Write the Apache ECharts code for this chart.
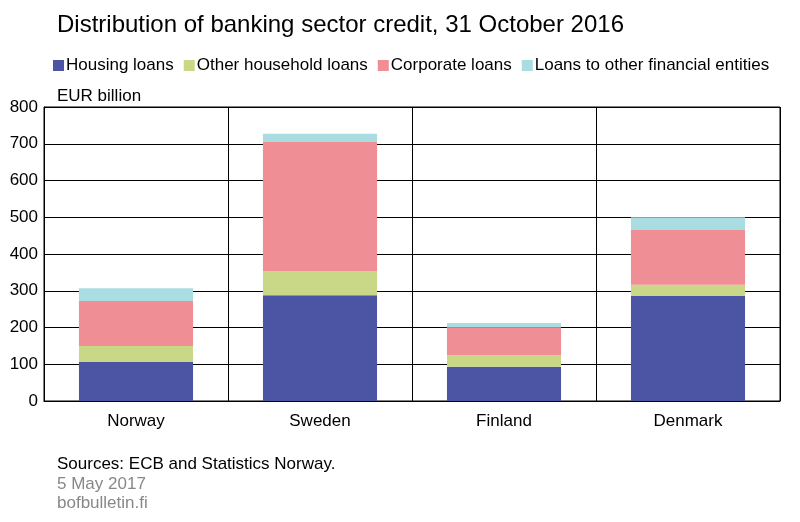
<!DOCTYPE html>
<html><head><meta charset="utf-8">
<script src="https://cdn.jsdelivr.net/npm/echarts@6/dist/echarts.min.js"></script>
<style>html,body{margin:0;padding:0;background:#fff}#c{width:800px;height:522px}</style>
</head><body><div id="c"></div>
<script>
var categories = ['Norway','Sweden','Finland','Denmark'];
var housing = [106, 288, 93, 286];
var otherHousehold = [44, 66, 32, 30];
var corporate = [122, 351, 76, 149];
var financial = [35, 22, 11, 35];
var yTicks = [0,100,200,300,400,500,600,700,800];
var F = 'Arial, Liberation Sans, sans-serif';
var chart = echarts.init(document.getElementById('c'));
function s(name, data, color){return {name:name,type:'bar',stack:'a',data:data,barWidth:'62%',itemStyle:{color:color},emphasis:{disabled:true}};}
function t(text,top,size,color){return {text:text,left:52,top:top,textStyle:{fontSize:size,fontWeight:'normal',color:color,fontFamily:F}};}
chart.setOption({
  animation:false,
  textStyle:{fontFamily:F},
  title:[t('Distribution of banking sector credit, 31 October 2016',8,24,'#000'),
    t('EUR billion',83,17,'#000'),
    t('Sources: ECB and Statistics Norway.',451,17,'#000'),
    t('5 May 2017',471,17,'#888'),
    t('bofbulletin.fi',490,17,'#888')],
  legend:{left:48,top:52,itemWidth:11,itemHeight:11,itemGap:10,icon:'rect',textStyle:{fontSize:17,color:'#000',padding:[0,0,0,-3]},
    data:['Housing loans','Other household loans','Corporate loans','Loans to other financial entities']},
  grid:{left:44,right:20,top:107,bottom:121,show:true,borderColor:'#000',borderWidth:1},
  xAxis:{type:'category',data:categories,axisLine:{lineStyle:{color:'#000'}},axisTick:{show:false},
    splitLine:{show:true,lineStyle:{color:'#000'}},axisLabel:{fontSize:17,color:'#000',margin:12}},
  yAxis:{type:'value',min:0,max:800,interval:100,axisLine:{show:true,lineStyle:{color:'#000'}},axisTick:{show:false},
    splitLine:{lineStyle:{color:'#000'}},axisLabel:{fontSize:17,color:'#000',margin:6,formatter:function(v){return yTicks.indexOf(v)>=0?String(v):'';}}},
  series:[s('Housing loans',housing,'#4b55a3'),s('Other household loans',otherHousehold,'#c9d887'),
    s('Corporate loans',corporate,'#f08e95'),s('Loans to other financial entities',financial,'#a9dde2')]
});
</script></body></html>
